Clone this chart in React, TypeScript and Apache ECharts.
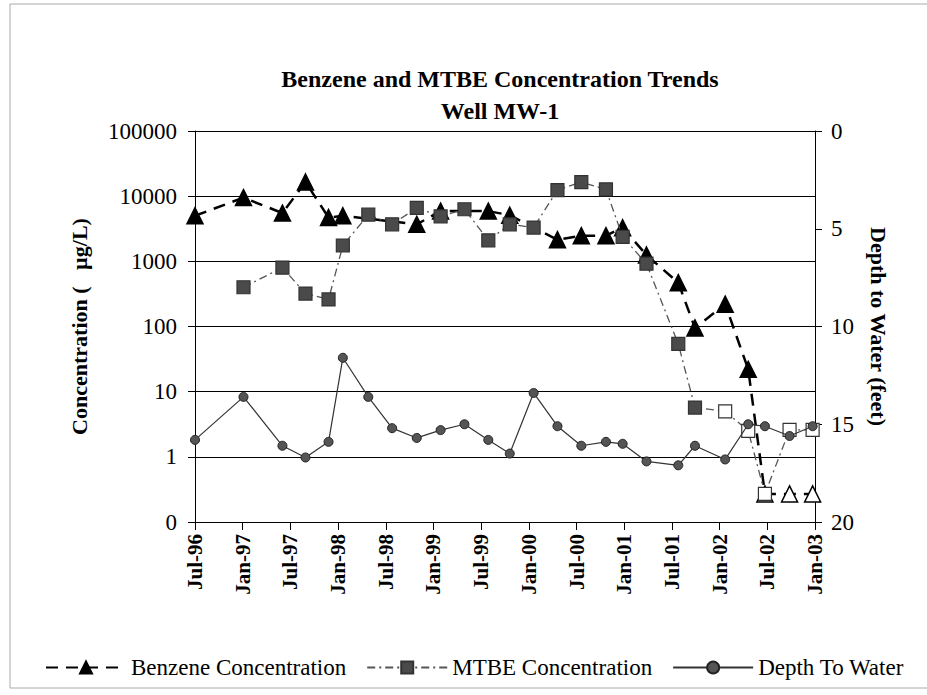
import React, { useEffect, useRef } from "react";
import * as echarts from "echarts";

// Sample dates expressed as months since Jul-96
const sampleMonths = [0, 6.1, 11, 13.9, 16.8, 18.6, 21.8, 24.8, 27.9, 30.9, 33.9, 36.9, 39.6, 42.6, 45.6, 48.6, 51.7, 53.8, 56.8, 60.8, 62.9, 66.7, 69.6, 71.7, 74.8, 77.7];

const benzene = [5000, 9500, 5500, 16500, 4700, 5000, null, null, 3700, 5900, null, 5900, 5100, null, 2150, 2480, 2480, 3270, 1250, 470, 95, 220, 22, 0.27, 0.27, 0.27];

const mtbe = [null, 400, 800, 320, 260, 1750, 5200, 3700, 6600, 4900, 6300, 2100, 3700, 3300, 12400, 16400, 12700, 2370, 920, 54, 5.7, 5.0, 2.5, 0.27, 2.6, 2.6];

const depthToWater = [15.8, 13.6, 16.1, 16.7, 15.9, 11.6, 13.6, 15.2, 15.7, 15.3, 15.0, 15.8, 16.5, 13.4, 15.1, 16.1, 15.9, 16.0, 16.9, 17.1, 16.1, 16.8, 15.0, 15.1, 15.6, 15.1];

const xTickLabels = ["Jul-96", "Jan-97", "Jul-97", "Jan-98", "Jul-98", "Jan-99", "Jul-99", "Jan-00", "Jul-00", "Jan-01", "Jul-01", "Jan-02", "Jul-02", "Jan-03"];
const leftTickLabels = ["0", "1", "10", "100", "1000", "10000", "100000"];
const rightTickLabels = ["0", "5", "10", "15", "20"];

const seriesNames = ["Benzene Concentration", "MTBE Concentration", "Depth To Water"];

const FONT = "Liberation Serif";

export default function App() {
  const ref = useRef<HTMLDivElement>(null);

  useEffect(() => {
    if (!ref.current) return;
    const chart = echarts.init(ref.current, null, { renderer: "svg" });

    const pair = (vals: (number | null)[]) =>
      sampleMonths.map((m, i) => [m, vals[i] === null ? null : vals[i]]);

    const option: any = {
      animation: false,
      backgroundColor: "#ffffff",
      textStyle: { fontFamily: FONT, color: "#000" },
      title: {
        text: "Benzene and MTBE Concentration Trends\nWell MW-1",
        left: 495,
        top: 58,
        textAlign: "center",
        textStyle: {
          fontFamily: FONT,
          fontSize: 24,
          fontWeight: "bold",
          color: "#000",
          lineHeight: 32,
        },
      },
      graphic: [
        {
          type: "rect",
          shape: { x: 10, y: 4, width: 940, height: 684 },
          style: { fill: "none", stroke: "#aaa", lineWidth: 1 },
          silent: true,
        },
      ],
      legend: {
        data: [
          { name: seriesNames[0], itemStyle: { color: "#000", borderColor: "#000" } },
          { name: seriesNames[1], itemStyle: { color: "#4a4a4a", borderColor: "#333" } },
          { name: seriesNames[2], itemStyle: { color: "#555", borderColor: "#222" } },
        ],
        left: 40,
        top: 651,
        itemWidth: 80,
        itemHeight: 15,
        itemGap: 20,
        textStyle: { fontFamily: FONT, fontSize: 23, color: "#000" },
      },
      grid: { left: 195, right: 112, top: 131, bottom: 173, containLabel: false },
      xAxis: {
        type: "value",
        min: 0,
        max: 78,
        interval: 6,
        splitLine: { show: false },
        axisLine: { show: true, onZero: false, lineStyle: { color: "#000", width: 1 } },
        axisTick: { show: true, length: 8, lineStyle: { color: "#000" } },
        axisLabel: {
          rotate: 90,
          fontFamily: FONT,
          fontSize: 21,
          fontWeight: "bold",
          color: "#000",
          margin: 12,
          formatter: (v: number) => xTickLabels[Math.round(v / 6)] ?? "",
        },
      },
      yAxis: [
        {
          type: "log",
          logBase: 10,
          min: 0.1,
          max: 100000,
          name: "Concentration (   µg/L)",
          nameLocation: "middle",
          nameGap: 105,
          nameRotate: 90,
          nameTextStyle: { fontFamily: FONT, fontSize: 22, fontWeight: "bold", color: "#000" },
          axisLine: { show: true, lineStyle: { color: "#000", width: 1 } },
          axisTick: { show: true, length: 7, lineStyle: { color: "#000" } },
          splitLine: { show: true, lineStyle: { color: "#000", width: 1 } },
          minorTick: { show: false },
          axisLabel: {
            fontFamily: FONT,
            fontSize: 23,
            color: "#000",
            margin: 18,
            formatter: (v: number) => leftTickLabels[Math.round(Math.log10(v)) + 1] ?? "",
          },
        },
        {
          type: "value",
          min: 0,
          max: 20,
          interval: 5,
          inverse: true,
          position: "right",
          name: "Depth to Water (feet)",
          nameLocation: "middle",
          nameGap: 52,
          nameRotate: -90,
          nameTextStyle: { fontFamily: FONT, fontSize: 22, fontWeight: "bold", color: "#000" },
          axisLine: { show: true, lineStyle: { color: "#000", width: 1 } },
          axisTick: { show: true, length: 7, lineStyle: { color: "#000" } },
          splitLine: { show: false },
          axisLabel: {
            fontFamily: FONT,
            fontSize: 23,
            color: "#000",
            margin: 16,
            formatter: (v: number) => rightTickLabels[Math.round(v / 5)] ?? "",
          },
        },
      ],
      series: [
        {
          name: seriesNames[0],
          type: "line",
          yAxisIndex: 0,
          data: pair(benzene),
          connectNulls: true,
          symbol: "triangle",
          symbolSize: 16,
          itemStyle: {
            color: (p: any) => (p.value && p.value[1] < 1 ? "#ffffff" : "#000000"),
            borderColor: "#000",
            borderWidth: 1.5,
          },
          lineStyle: { color: "#000", width: 2.5, type: [12, 8] },
          z: 3,
        },
        {
          name: seriesNames[1],
          type: "line",
          yAxisIndex: 0,
          data: pair(mtbe),
          connectNulls: true,
          symbol: "rect",
          symbolSize: 13,
          itemStyle: {
            color: (p: any) => (p.value && p.value[1] < 5.5 ? "#ffffff" : "#4a4a4a"),
            borderColor: "#333",
            borderWidth: 1.2,
          },
          lineStyle: { color: "#555", width: 1.3, type: [8, 4, 2, 4] },
          z: 4,
        },
        {
          name: seriesNames[2],
          type: "line",
          yAxisIndex: 1,
          data: pair(depthToWater),
          symbol: "circle",
          symbolSize: 9,
          itemStyle: { color: "#555", borderColor: "#222", borderWidth: 1 },
          lineStyle: { color: "#333", width: 1.2 },
          z: 5,
        },
      ],
    };

    chart.setOption(option);
    return () => chart.dispose();
  }, []);

  return (
    <div
      ref={ref}
      style={{ position: "fixed", left: 0, top: 0, width: 927, height: 695, background: "#fff" }}
    />
  );
}
